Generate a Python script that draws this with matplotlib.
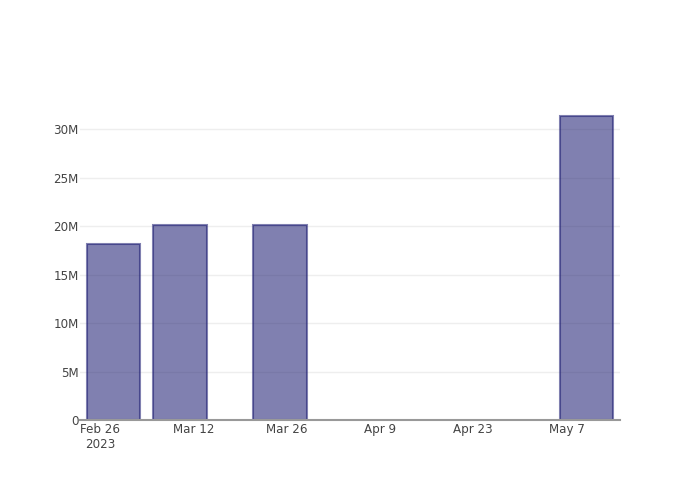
import matplotlib.pyplot as plt
import matplotlib.dates as mdates
import numpy as np
import pandas as pd

# weekly totals
dates = pd.to_datetime(["2023-02-28", "2023-03-10", "2023-03-25", "2023-05-10"])
values = [18.2e6, 20.1e6, 20.1e6, 31.3e6]

tick_dates = pd.to_datetime(["2023-02-26", "2023-03-12", "2023-03-26",
                             "2023-04-09", "2023-04-23", "2023-05-07"])
tick_labels = ["Feb 26\n2023", "Mar 12", "Mar 26", "Apr 9", "Apr 23", "May 7"]
y_ticks = [0, 5e6, 10e6, 15e6, 20e6, 25e6, 30e6]
y_labels = ["0", "5M", "10M", "15M", "20M", "25M", "30M"]

fig = plt.figure(figsize=(7, 5), dpi=100)
ax = fig.add_axes([80 / 700, 80 / 500, 540 / 700, 320 / 500])

x = mdates.date2num(dates)
ax.bar(x, values, width=8, color="midnightblue", alpha=0.55,
       edgecolor="midnightblue", linewidth=1.5, zorder=3)

ax.set_xlim(mdates.date2num(pd.Timestamp("2023-02-23")),
            mdates.date2num(pd.Timestamp("2023-05-15")))
ax.set_ylim(0, 33e6)

ax.set_xticks(mdates.date2num(tick_dates))
ax.set_xticklabels(tick_labels, multialignment="center")
ax.set_yticks(y_ticks)
ax.set_yticklabels(y_labels)

ax.tick_params(axis="both", length=0, labelsize=8.6, colors="#444444")
ax.tick_params(axis="x", pad=2.5)
ax.tick_params(axis="y", pad=1)
ax.grid(axis="y", color="#eeeeee", linewidth=1, zorder=0)

for side in ["top", "right", "left"]:
    ax.spines[side].set_visible(False)
ax.spines["bottom"].set_color("#999999")
ax.spines["bottom"].set_linewidth(1.5)
ax.spines["bottom"].set_zorder(4)

fig.savefig("out.png", dpi=100)
